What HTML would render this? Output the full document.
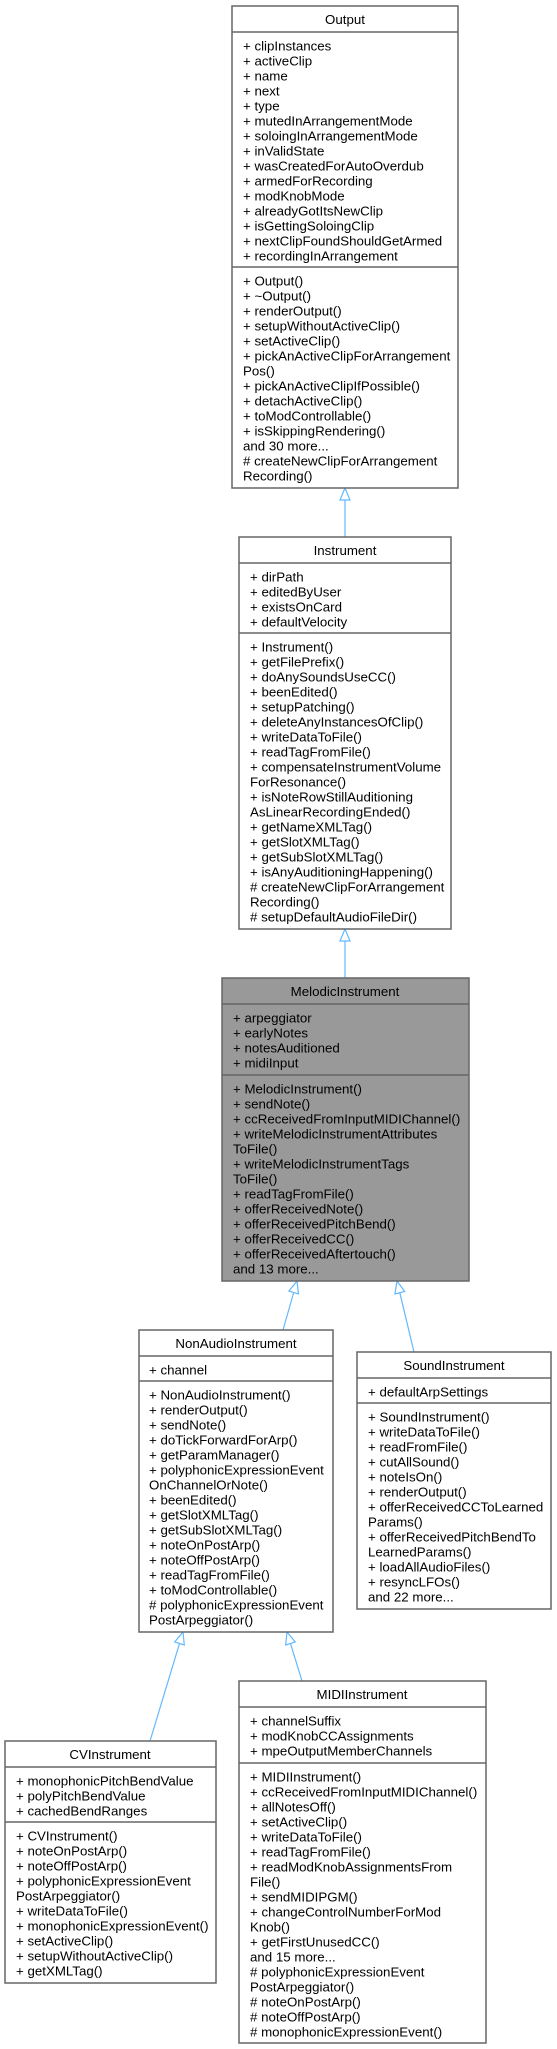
<!DOCTYPE html>
<html><head><meta charset="utf-8"><style>
html,body{margin:0;padding:0;background:#fff;}
svg{display:block;}
text{font-family:"Liberation Sans",Helvetica,Arial,sans-serif;font-size:13.3px;fill:#000;}
.b{fill:#fff;stroke:#666;stroke-width:1.5;}
.g{fill:#999;stroke:#666;stroke-width:1.5;}
.s{stroke:#666;stroke-width:1.5;}
.e{stroke:#63b8ff;stroke-width:1.2;fill:none;}
.a{stroke:#63b8ff;stroke-width:1.2;fill:#fff;}
</style></head><body>
<svg width="557" height="2049" viewBox="0 0 557 2049" xmlns="http://www.w3.org/2000/svg">
<!-- edges -->
<line class="e" x1="345" y1="500" x2="345" y2="537"/>
<polygon class="a" points="345,488 340,500 350,500"/>
<line class="e" x1="345" y1="941" x2="345" y2="978"/>
<polygon class="a" points="345,929 340,941 350,941"/>
<line class="e" x1="293.7" y1="1292.5" x2="283" y2="1330"/>
<polygon class="a" points="297,1281 298.5,1293.9 288.9,1291.1"/>
<line class="e" x1="399.8" y1="1292.7" x2="414" y2="1352"/>
<polygon class="a" points="397,1281 404.7,1291.5 394.9,1293.9"/>
<line class="e" x1="179.5" y1="1643.5" x2="150" y2="1741"/>
<polygon class="a" points="183,1632 184.3,1645 174.7,1642"/>
<line class="e" x1="290.5" y1="1643.5" x2="302" y2="1681"/>
<polygon class="a" points="287,1632 295.3,1642 285.7,1645"/>

<!-- Output -->
<rect class="b" x="232" y="6" width="226" height="482"/>
<line class="s" x1="232" y1="32" x2="458" y2="32"/>
<line class="s" x1="232" y1="267" x2="458" y2="267"/>
<text x="345" y="24" text-anchor="middle">Output</text>
<text y="50.5"><tspan x="243">+ clipInstances</tspan><tspan x="243" dy="15">+ activeClip</tspan><tspan x="243" dy="15">+ name</tspan><tspan x="243" dy="15">+ next</tspan><tspan x="243" dy="15">+ type</tspan><tspan x="243" dy="15">+ mutedInArrangementMode</tspan><tspan x="243" dy="15">+ soloingInArrangementMode</tspan><tspan x="243" dy="15">+ inValidState</tspan><tspan x="243" dy="15">+ wasCreatedForAutoOverdub</tspan><tspan x="243" dy="15">+ armedForRecording</tspan><tspan x="243" dy="15">+ modKnobMode</tspan><tspan x="243" dy="15">+ alreadyGotItsNewClip</tspan><tspan x="243" dy="15">+ isGettingSoloingClip</tspan><tspan x="243" dy="15">+ nextClipFoundShouldGetArmed</tspan><tspan x="243" dy="15">+ recordingInArrangement</tspan></text>
<text y="285.5"><tspan x="243">+ Output()</tspan><tspan x="243" dy="15">+ ~Output()</tspan><tspan x="243" dy="15">+ renderOutput()</tspan><tspan x="243" dy="15">+ setupWithoutActiveClip()</tspan><tspan x="243" dy="15">+ setActiveClip()</tspan><tspan x="243" dy="15">+ pickAnActiveClipForArrangement</tspan><tspan x="243" dy="15">Pos()</tspan><tspan x="243" dy="15">+ pickAnActiveClipIfPossible()</tspan><tspan x="243" dy="15">+ detachActiveClip()</tspan><tspan x="243" dy="15">+ toModControllable()</tspan><tspan x="243" dy="15">+ isSkippingRendering()</tspan><tspan x="243" dy="15">and 30 more...</tspan><tspan x="243" dy="15"># createNewClipForArrangement</tspan><tspan x="243" dy="15">Recording()</tspan></text>

<!-- Instrument -->
<rect class="b" x="239" y="537" width="212" height="392"/>
<line class="s" x1="239" y1="563" x2="451" y2="563"/>
<line class="s" x1="239" y1="633" x2="451" y2="633"/>
<text x="345" y="555" text-anchor="middle">Instrument</text>
<text y="581.5"><tspan x="250">+ dirPath</tspan><tspan x="250" dy="15">+ editedByUser</tspan><tspan x="250" dy="15">+ existsOnCard</tspan><tspan x="250" dy="15">+ defaultVelocity</tspan></text>
<text y="651.5"><tspan x="250">+ Instrument()</tspan><tspan x="250" dy="15">+ getFilePrefix()</tspan><tspan x="250" dy="15">+ doAnySoundsUseCC()</tspan><tspan x="250" dy="15">+ beenEdited()</tspan><tspan x="250" dy="15">+ setupPatching()</tspan><tspan x="250" dy="15">+ deleteAnyInstancesOfClip()</tspan><tspan x="250" dy="15">+ writeDataToFile()</tspan><tspan x="250" dy="15">+ readTagFromFile()</tspan><tspan x="250" dy="15">+ compensateInstrumentVolume</tspan><tspan x="250" dy="15">ForResonance()</tspan><tspan x="250" dy="15">+ isNoteRowStillAuditioning</tspan><tspan x="250" dy="15">AsLinearRecordingEnded()</tspan><tspan x="250" dy="15">+ getNameXMLTag()</tspan><tspan x="250" dy="15">+ getSlotXMLTag()</tspan><tspan x="250" dy="15">+ getSubSlotXMLTag()</tspan><tspan x="250" dy="15">+ isAnyAuditioningHappening()</tspan><tspan x="250" dy="15"># createNewClipForArrangement</tspan><tspan x="250" dy="15">Recording()</tspan><tspan x="250" dy="15"># setupDefaultAudioFileDir()</tspan></text>

<!-- MelodicInstrument -->
<rect class="g" x="222" y="978" width="247" height="303"/>
<line class="s" x1="222" y1="1004" x2="469" y2="1004"/>
<line class="s" x1="222" y1="1075" x2="469" y2="1075"/>
<text x="345" y="996" text-anchor="middle">MelodicInstrument</text>
<text y="1022.5"><tspan x="233">+ arpeggiator</tspan><tspan x="233" dy="15">+ earlyNotes</tspan><tspan x="233" dy="15">+ notesAuditioned</tspan><tspan x="233" dy="15">+ midiInput</tspan></text>
<text y="1093.5"><tspan x="233">+ MelodicInstrument()</tspan><tspan x="233" dy="15">+ sendNote()</tspan><tspan x="233" dy="15">+ ccReceivedFromInputMIDIChannel()</tspan><tspan x="233" dy="15">+ writeMelodicInstrumentAttributes</tspan><tspan x="233" dy="15">ToFile()</tspan><tspan x="233" dy="15">+ writeMelodicInstrumentTags</tspan><tspan x="233" dy="15">ToFile()</tspan><tspan x="233" dy="15">+ readTagFromFile()</tspan><tspan x="233" dy="15">+ offerReceivedNote()</tspan><tspan x="233" dy="15">+ offerReceivedPitchBend()</tspan><tspan x="233" dy="15">+ offerReceivedCC()</tspan><tspan x="233" dy="15">+ offerReceivedAftertouch()</tspan><tspan x="233" dy="15">and 13 more...</tspan></text>

<!-- NonAudioInstrument -->
<rect class="b" x="139" y="1330" width="194" height="302"/>
<line class="s" x1="139" y1="1356" x2="333" y2="1356"/>
<line class="s" x1="139" y1="1381" x2="333" y2="1381"/>
<text x="236" y="1348" text-anchor="middle">NonAudioInstrument</text>
<text y="1374.5"><tspan x="149">+ channel</tspan></text>
<text y="1399.5"><tspan x="149">+ NonAudioInstrument()</tspan><tspan x="149" dy="15">+ renderOutput()</tspan><tspan x="149" dy="15">+ sendNote()</tspan><tspan x="149" dy="15">+ doTickForwardForArp()</tspan><tspan x="149" dy="15">+ getParamManager()</tspan><tspan x="149" dy="15">+ polyphonicExpressionEvent</tspan><tspan x="149" dy="15">OnChannelOrNote()</tspan><tspan x="149" dy="15">+ beenEdited()</tspan><tspan x="149" dy="15">+ getSlotXMLTag()</tspan><tspan x="149" dy="15">+ getSubSlotXMLTag()</tspan><tspan x="149" dy="15">+ noteOnPostArp()</tspan><tspan x="149" dy="15">+ noteOffPostArp()</tspan><tspan x="149" dy="15">+ readTagFromFile()</tspan><tspan x="149" dy="15">+ toModControllable()</tspan><tspan x="149" dy="15"># polyphonicExpressionEvent</tspan><tspan x="149" dy="15">PostArpeggiator()</tspan></text>

<!-- SoundInstrument -->
<rect class="b" x="357" y="1352" width="194" height="257"/>
<line class="s" x1="357" y1="1378" x2="551" y2="1378"/>
<line class="s" x1="357" y1="1403" x2="551" y2="1403"/>
<text x="454" y="1370" text-anchor="middle">SoundInstrument</text>
<text y="1396.5"><tspan x="368">+ defaultArpSettings</tspan></text>
<text y="1421.5"><tspan x="368">+ SoundInstrument()</tspan><tspan x="368" dy="15">+ writeDataToFile()</tspan><tspan x="368" dy="15">+ readFromFile()</tspan><tspan x="368" dy="15">+ cutAllSound()</tspan><tspan x="368" dy="15">+ noteIsOn()</tspan><tspan x="368" dy="15">+ renderOutput()</tspan><tspan x="368" dy="15">+ offerReceivedCCToLearned</tspan><tspan x="368" dy="15">Params()</tspan><tspan x="368" dy="15">+ offerReceivedPitchBendTo</tspan><tspan x="368" dy="15">LearnedParams()</tspan><tspan x="368" dy="15">+ loadAllAudioFiles()</tspan><tspan x="368" dy="15">+ resyncLFOs()</tspan><tspan x="368" dy="15">and 22 more...</tspan></text>

<!-- CVInstrument -->
<rect class="b" x="5" y="1741" width="211" height="242"/>
<line class="s" x1="5" y1="1767" x2="216" y2="1767"/>
<line class="s" x1="5" y1="1822" x2="216" y2="1822"/>
<text x="110" y="1759" text-anchor="middle">CVInstrument</text>
<text y="1785.5"><tspan x="16">+ monophonicPitchBendValue</tspan><tspan x="16" dy="15">+ polyPitchBendValue</tspan><tspan x="16" dy="15">+ cachedBendRanges</tspan></text>
<text y="1840.5"><tspan x="16">+ CVInstrument()</tspan><tspan x="16" dy="15">+ noteOnPostArp()</tspan><tspan x="16" dy="15">+ noteOffPostArp()</tspan><tspan x="16" dy="15">+ polyphonicExpressionEvent</tspan><tspan x="16" dy="15">PostArpeggiator()</tspan><tspan x="16" dy="15">+ writeDataToFile()</tspan><tspan x="16" dy="15">+ monophonicExpressionEvent()</tspan><tspan x="16" dy="15">+ setActiveClip()</tspan><tspan x="16" dy="15">+ setupWithoutActiveClip()</tspan><tspan x="16" dy="15">+ getXMLTag()</tspan></text>

<!-- MIDIInstrument -->
<rect class="b" x="239" y="1681" width="247" height="362"/>
<line class="s" x1="239" y1="1707" x2="486" y2="1707"/>
<line class="s" x1="239" y1="1763" x2="486" y2="1763"/>
<text x="362" y="1699" text-anchor="middle">MIDIInstrument</text>
<text y="1725.5"><tspan x="250">+ channelSuffix</tspan><tspan x="250" dy="15">+ modKnobCCAssignments</tspan><tspan x="250" dy="15">+ mpeOutputMemberChannels</tspan></text>
<text y="1781.5"><tspan x="250">+ MIDIInstrument()</tspan><tspan x="250" dy="15">+ ccReceivedFromInputMIDIChannel()</tspan><tspan x="250" dy="15">+ allNotesOff()</tspan><tspan x="250" dy="15">+ setActiveClip()</tspan><tspan x="250" dy="15">+ writeDataToFile()</tspan><tspan x="250" dy="15">+ readTagFromFile()</tspan><tspan x="250" dy="15">+ readModKnobAssignmentsFrom</tspan><tspan x="250" dy="15">File()</tspan><tspan x="250" dy="15">+ sendMIDIPGM()</tspan><tspan x="250" dy="15">+ changeControlNumberForMod</tspan><tspan x="250" dy="15">Knob()</tspan><tspan x="250" dy="15">+ getFirstUnusedCC()</tspan><tspan x="250" dy="15">and 15 more...</tspan><tspan x="250" dy="15"># polyphonicExpressionEvent</tspan><tspan x="250" dy="15">PostArpeggiator()</tspan><tspan x="250" dy="15"># noteOnPostArp()</tspan><tspan x="250" dy="15"># noteOffPostArp()</tspan><tspan x="250" dy="15"># monophonicExpressionEvent()</tspan></text>
</svg>
</body></html>
